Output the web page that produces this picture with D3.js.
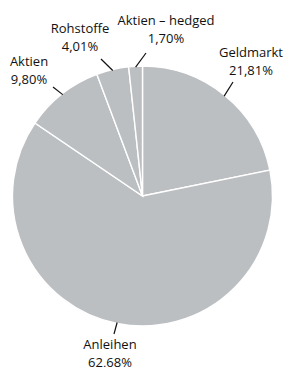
<!DOCTYPE html>
<html>
<head>
<meta charset="utf-8">
<script src="https://cdn.jsdelivr.net/npm/d3@7"></script>
<style>
	body { margin: 0; background: #fff; }
	text { font-family: "Open Sans", sans-serif; font-size: 13px; fill: #111; }
</style>
</head>
<body>
<div id="chart"></div>
<script>
/* Données */
const categories = ["Geldmarkt", "Anleihen", "Aktien", "Rohstoffe", "Aktien – hedged"];
const values = [21.81, 62.68, 9.80, 4.01, 1.70];

/* Mise en page */
const width = 286, height = 367;
const cx = 142.5, cy = 196, radius = 130;

// position du texte de chaque étiquette (centre, première ligne) et fin du trait
const labelPos = [
	{x: 251, y: 57, end: [233, 82]},
	{x: 110, y: 349, end: [114, 334]},
	{x: 29, y: 66, end: [53, 87]},
	{x: 80, y: 33, end: [101, 59]},
	{x: 166, y: 25, end: [146, 53]}
];

const svg = d3.select("#chart")
	.append("svg")
	.attr("width", width)
	.attr("height", height);

const pie = d3.pie().sort(null).value(function(d){ return d; });
const arc = d3.arc().innerRadius(0).outerRadius(radius);
const edge = d3.arc().innerRadius(radius - 1).outerRadius(radius - 1);

const arcs = pie(values);

const g = svg.append("g").attr("transform", "translate(" + cx + "," + cy + ")");

g.selectAll("path")
	.data(arcs)
	.enter()
	.append("path")
	.attr("d", arc)
	.style("fill", "#bcbfc2")
	.style("stroke", "white")
	.style("stroke-width", 1.4);

// traits de rappel
svg.append("g").selectAll("line")
	.data(arcs)
	.enter()
	.append("line")
	.attr("x1", function(d){ return cx + edge.centroid(d)[0]; })
	.attr("y1", function(d){ return cy + edge.centroid(d)[1]; })
	.attr("x2", function(d, i){ return labelPos[i].end[0]; })
	.attr("y2", function(d, i){ return labelPos[i].end[1]; })
	.style("stroke", "#111")
	.style("stroke-width", 1.2);

// étiquettes
const labels = svg.append("g").selectAll("text")
	.data(arcs)
	.enter()
	.append("text")
	.attr("x", function(d, i){ return labelPos[i].x; })
	.attr("y", function(d, i){ return labelPos[i].y; })
	.style("text-anchor", "middle");

labels.append("tspan")
	.attr("x", function(d, i){ return labelPos[i].x; })
	.text(function(d, i){ return categories[i]; });

labels.append("tspan")
	.attr("x", function(d, i){ return labelPos[i].x; })
	.attr("dy", 18)
	.text(function(d){ return d.value.toFixed(2).replace(".", ",") + "%"; });
</script>
</body>
</html>
